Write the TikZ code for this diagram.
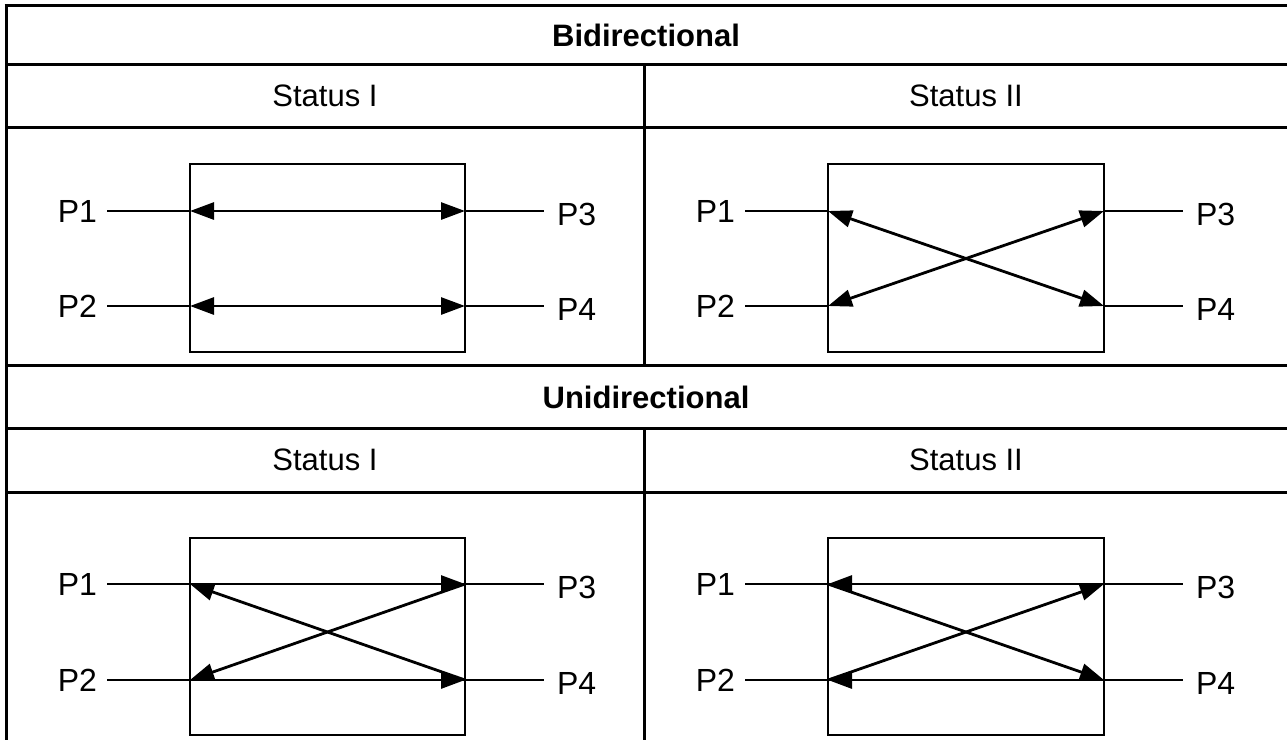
\documentclass[tikz,border=0pt]{standalone}
\usepackage{fontspec}
\setmainfont{Liberation Sans}
\usetikzlibrary{arrows.meta}
\tikzset{
  grid/.style={line width=3pt},
  boxline/.style={draw, line width=2.6pt, inner sep=0pt, outer sep=0pt},
  wire/.style={line width=2.7pt},
  arr/.style={line width=2.8pt},
  >={Triangle[length=24pt,width=17pt]},
  lbl/.style={font=\fontsize{32}{36}\selectfont, inner xsep=10pt, inner ysep=0pt, outer sep=0pt},
  hdr/.style={font=\fontsize{31}{36}\selectfont, inner sep=0pt},
}
% #1 prefix, #2 box left x, #3 box right x, #4 box top y, #5 box bottom y, #6 upper port y, #7 lower port y
\newcommand\drawpanel[7]{%
  \node[boxline, anchor=north west, minimum width={(#3-#2)*1pt}, minimum height={(#5-#4)*1pt}] (#1box) at (#2,#4) {};
  \coordinate (#1a) at (#2,#6);
  \coordinate (#1b) at (#2,#7);
  \coordinate (#1c) at (#3,#6);
  \coordinate (#1d) at (#3,#7);
  \node[lbl, anchor=east] (#1L1) at (#2-83,#6) {P1};
  \node[lbl, anchor=east] (#1L2) at (#2-83,#7) {P2};
  \node[lbl, anchor=west, inner xsep=13pt] (#1L3) at (#3+79,#6+3) {P3};
  \node[lbl, anchor=west, inner xsep=13pt] (#1L4) at (#3+79,#7+3) {P4};
  \draw[wire] (#1L1.east) -- (#1a);
  \draw[wire] (#1L2.east) -- (#1b);
  \draw[wire] (#1c) -- (#1L3.west |- #1c);
  \draw[wire] (#1d) -- (#1L4.west |- #1d);
}
\begin{document}
\begin{tikzpicture}[x=1pt,y=-1pt]
\useasboundingbox (0,0) rectangle (1287,740);
% table rules
\draw[grid] (4.5,5) -- (1287,5);
\draw[grid] (6,5) -- (6,740);
\draw[grid] (6,64) -- (1287,64);
\draw[grid] (6,127) -- (1287,127);
\draw[grid] (6,365) -- (1287,365);
\draw[grid] (6,428) -- (1287,428);
\draw[grid] (6,492) -- (1287,492);
\draw[grid] (644,64) -- (644,365);
\draw[grid] (644,428) -- (644,740);
% headers
\node[hdr] (hbi) at (646,35) {\textbf{Bidirectional}};
\node[hdr] (hs1) at (325,96) {Status I};
\node[hdr] (hs2) at (966,96) {Status II};
\node[hdr] (huni) at (646,397) {\textbf{Unidirectional}};
\node[hdr] (hs3) at (325,460) {Status I};
\node[hdr] (hs4) at (966,460) {Status II};
% panels
\drawpanel{TL}{190}{465}{164}{352}{211}{306}
\drawpanel{TR}{828}{1104}{164}{352}{211}{306}
\drawpanel{BL}{190}{465}{538}{735}{584}{680}
\drawpanel{BR}{828}{1104}{538}{735}{584}{680}
% bidirectional status I
\draw[arr,<->] (TLa) -- (TLc);
\draw[arr,<->] (TLb) -- (TLd);
% bidirectional status II
\draw[arr,<->] (TRa) -- (TRd);
\draw[arr,<->] (TRb) -- (TRc);
% unidirectional status I
\draw[arr,->] (BLa) -- (BLc);
\draw[arr,->] (BLb) -- (BLd);
\draw[arr,->] (BLc) -- (BLb);
\draw[arr,->] (BLd) -- (BLa);
% unidirectional status II
\draw[arr,->] (BRc) -- (BRa);
\draw[arr,->] (BRd) -- (BRb);
\draw[arr,->] (BRb) -- (BRc);
\draw[arr,->] (BRa) -- (BRd);
\end{tikzpicture}
\end{document}
